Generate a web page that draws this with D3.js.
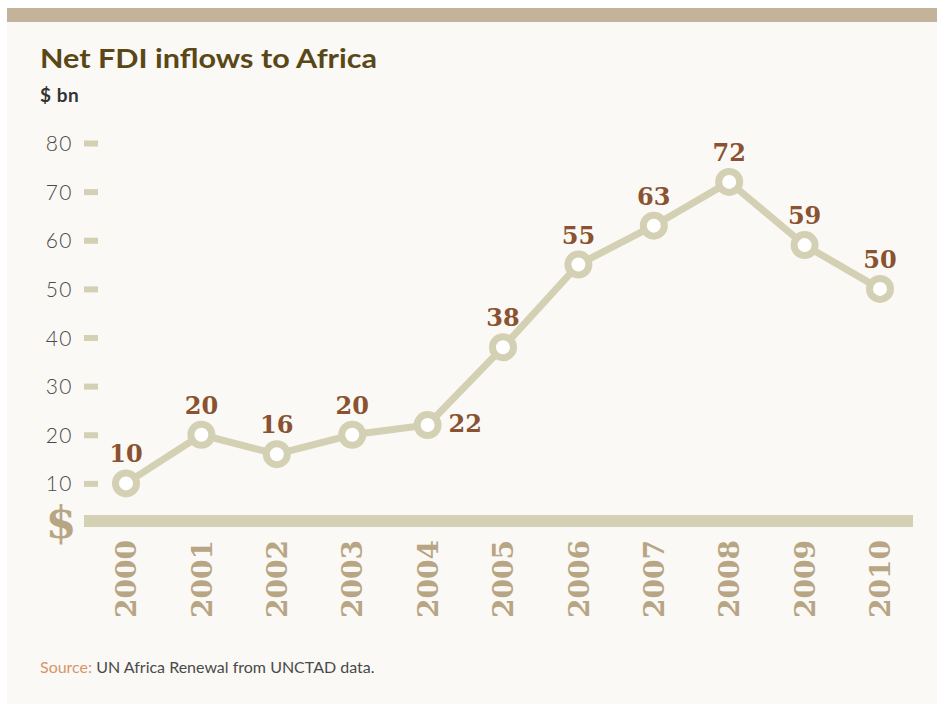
<!DOCTYPE html>
<html>
<head>
<meta charset="utf-8">
<script src="https://cdn.jsdelivr.net/npm/d3@7/dist/d3.min.js"></script>
<style>
html,body{margin:0;padding:0;background:#ffffff;}
svg{display:block;}
</style>
</head>
<body>
<svg id="chart" width="937" height="704"></svg>
<script>
const years = ["2000","2001","2002","2003","2004","2005","2006","2007","2008","2009","2010"];
const values = [10,20,16,20,22,38,55,63,72,59,50];
const yTicks = [10,20,30,40,50,60,70,80];
const title = "Net FDI inflows to Africa";
const unit = "$ bn";

const svg = d3.select("#chart");
svg.append("rect").attr("x",7).attr("y",22).attr("width",930).attr("height",682).attr("fill","#faf9f5");
svg.append("rect").attr("x",7).attr("y",8).attr("width",930).attr("height",14).attr("fill","#c4b39b");

svg.append("text").attr("x",40).attr("y",68)
  .attr("font-family","Lato, 'Open Sans', sans-serif").attr("font-weight",700)
  .attr("font-size",26).attr("fill","#5a4717")
  .attr("textLength",337).attr("lengthAdjust","spacingAndGlyphs").text(title);
svg.append("text").attr("x",40).attr("y",102)
  .attr("font-family","Lato, 'Open Sans', sans-serif").attr("font-weight",700)
  .attr("font-size",19).attr("fill","#333333").attr("letter-spacing",0.5).text(unit);

const x = d3.scalePoint().domain(years).range([126,880]);
const y = d3.scaleLinear().domain([0,80]).range([532,143]);

// y axis
const yAxis = d3.axisLeft(y).tickValues(yTicks).tickSize(0).tickPadding(0);
const gy = svg.append("g").attr("transform","translate(84,0)").call(yAxis);
gy.select(".domain").remove();
gy.selectAll(".tick text").attr("x",-11).attr("dy","0.36em")
  .attr("font-family","Lato, 'Open Sans', sans-serif").attr("font-weight",300)
  .attr("font-size",21).attr("letter-spacing",1.5).attr("fill","#4a4a4a");
gy.selectAll(".tick").append("rect").attr("x",0).attr("y",-3).attr("width",14).attr("height",6).attr("fill","#d4d0b3");

// baseline bar
svg.append("rect").attr("x",84).attr("y",515).attr("width",829).attr("height",12).attr("fill","#d4d0b3");
svg.append("text").attr("x",61).attr("y",538).attr("text-anchor","middle")
  .attr("font-family","'DejaVu Serif', serif").attr("font-weight",700)
  .attr("font-size",44).attr("fill","#b8a584").text("$");

// x axis labels rotated
const xAxis = d3.axisBottom(x).tickSize(0).tickPadding(0);
const gx = svg.append("g").attr("transform","translate(0,540)").call(xAxis);
gx.select(".domain").remove();
gx.selectAll(".tick text")
  .attr("transform","rotate(-90)").attr("x",-78).attr("y",0).attr("dy","0.36em")
  .attr("text-anchor","start")
  .attr("font-family","'DejaVu Serif', serif").attr("font-weight",700)
  .attr("font-size",27).attr("fill","#b8a584")
  .attr("textLength",78).attr("lengthAdjust","spacingAndGlyphs");

// line
const data = years.map((yr,i)=>({yr, v: values[i]}));
svg.append("path").datum(data)
  .attr("d", d3.line().x(d=>x(d.yr)).y(d=>y(d.v)))
  .attr("fill","none").attr("stroke","#d4d0b3").attr("stroke-width",7).attr("stroke-linejoin","round");

svg.selectAll("circle.pt").data(data).join("circle").attr("class","pt")
  .attr("cx",d=>x(d.yr)).attr("cy",d=>y(d.v)).attr("r",10.5)
  .attr("fill","#ffffff").attr("stroke","#d4d0b3").attr("stroke-width",7);

svg.selectAll("text.lbl").data(data).join("text").attr("class","lbl")
  .attr("x",d=> d.yr==="2004" ? x(d.yr)+21 : x(d.yr))
  .attr("y",d=> d.yr==="2004" ? y(d.v)+7 : y(d.v)-21)
  .attr("text-anchor",d=> d.yr==="2004" ? "start" : "middle")
  .attr("font-family","'DejaVu Serif', serif").attr("font-weight",700)
  .attr("font-size",24).attr("fill","#8a5230")
  .text(d=>d.v);

// source
const src = svg.append("text").attr("x",40).attr("y",673)
  .attr("font-family","Lato, 'Open Sans', sans-serif").attr("font-weight",400)
  .attr("font-size",16);
src.append("tspan").attr("fill","#d9946a").text("Source: ");
src.append("tspan").attr("fill","#4a4a4a").text("UN Africa Renewal from UNCTAD data.");
</script>
</body>
</html>
